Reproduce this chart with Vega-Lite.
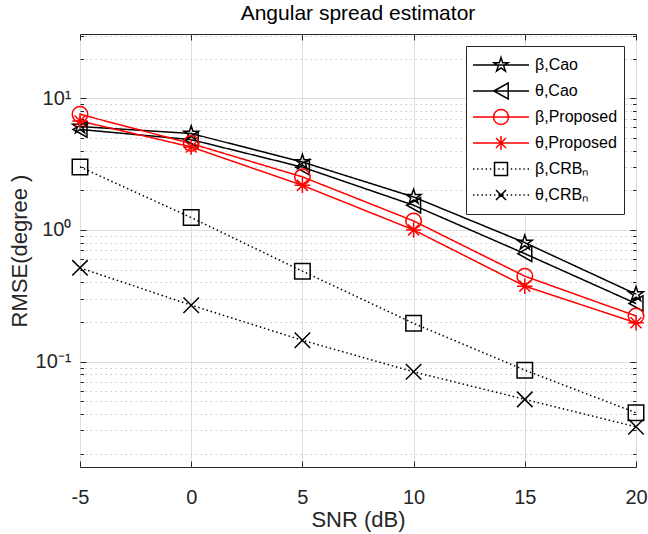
{
  "$schema": "https://vega.github.io/schema/vega-lite/v6.json",
  "width": 556,
  "height": 433,
  "autosize": {"type": "none"},
  "padding": {"left": 80, "top": 34, "right": 12, "bottom": 67},
  "title": {"text": "Angular spread estimator", "fontSize": 21, "fontWeight": "normal", "font": "Liberation Sans", "color": "#000000", "offset": 10, "anchor": "middle", "frame": "group"},
  "config": {
    "view": {"stroke": "#262626", "strokeWidth": 1},
    "font": "Liberation Sans",
    "legend": {
      "title": null,
      "orient": "top-right",
      "offset": 12,
      "padding": 6,
      "strokeColor": "#262626",
      "fillColor": "#ffffff",
      "cornerRadius": 0,
      "labelFontSize": 16,
      "labelFont": "Liberation Sans",
      "labelColor": "#000000",
      "symbolSize": 3136,
      "symbolStrokeWidth": 1.5,
      "symbolOpacity": 1,
      "symbolFillColor": "transparent",
      "labelOffset": 5,
      "clipHeight": 26,
      "rowPadding": 0
    }
  },
  "data": {"values": [
    {"snr": -5, "rmse": 6.1, "series": "β,Cao"},
    {"snr": 0, "rmse": 5.4, "series": "β,Cao"},
    {"snr": 5, "rmse": 3.28, "series": "β,Cao"},
    {"snr": 10, "rmse": 1.78, "series": "β,Cao"},
    {"snr": 15, "rmse": 0.8, "series": "β,Cao"},
    {"snr": 20, "rmse": 0.325, "series": "β,Cao"},
    {"snr": -5, "rmse": 5.8, "series": "θ,Cao"},
    {"snr": 0, "rmse": 4.85, "series": "θ,Cao"},
    {"snr": 5, "rmse": 3.0, "series": "θ,Cao"},
    {"snr": 10, "rmse": 1.54, "series": "θ,Cao"},
    {"snr": 15, "rmse": 0.66, "series": "θ,Cao"},
    {"snr": 20, "rmse": 0.276, "series": "θ,Cao"},
    {"snr": -5, "rmse": 7.56, "series": "β,Proposed"},
    {"snr": 0, "rmse": 4.53, "series": "β,Proposed"},
    {"snr": 5, "rmse": 2.53, "series": "β,Proposed"},
    {"snr": 10, "rmse": 1.17, "series": "β,Proposed"},
    {"snr": 15, "rmse": 0.445, "series": "β,Proposed"},
    {"snr": 20, "rmse": 0.222, "series": "β,Proposed"},
    {"snr": -5, "rmse": 6.72, "series": "θ,Proposed"},
    {"snr": 0, "rmse": 4.27, "series": "θ,Proposed"},
    {"snr": 5, "rmse": 2.18, "series": "θ,Proposed"},
    {"snr": 10, "rmse": 1.0, "series": "θ,Proposed"},
    {"snr": 15, "rmse": 0.374, "series": "θ,Proposed"},
    {"snr": 20, "rmse": 0.197, "series": "θ,Proposed"},
    {"snr": -5, "rmse": 3.01, "series": "β,CRBₙ"},
    {"snr": 0, "rmse": 1.24, "series": "β,CRBₙ"},
    {"snr": 5, "rmse": 0.486, "series": "β,CRBₙ"},
    {"snr": 10, "rmse": 0.195, "series": "β,CRBₙ"},
    {"snr": 15, "rmse": 0.086, "series": "β,CRBₙ"},
    {"snr": 20, "rmse": 0.0408, "series": "β,CRBₙ"},
    {"snr": -5, "rmse": 0.515, "series": "θ,CRBₙ"},
    {"snr": 0, "rmse": 0.268, "series": "θ,CRBₙ"},
    {"snr": 5, "rmse": 0.145, "series": "θ,CRBₙ"},
    {"snr": 10, "rmse": 0.0835, "series": "θ,CRBₙ"},
    {"snr": 15, "rmse": 0.0516, "series": "θ,CRBₙ"},
    {"snr": 20, "rmse": 0.0319, "series": "θ,CRBₙ"}
  ]},
  "layer": [
    {
      "mark": {"type": "line", "strokeWidth": 1.5, "clip": false},
      "encoding": {
        "x": {"field": "snr", "type": "quantitative",
          "scale": {"domain": [-5, 20], "nice": false, "zero": false},
          "axis": {"orient": "bottom", "values": [-5, 0, 5, 10, 15, 20], "title": "SNR (dB)",
            "grid": true, "gridColor": "#dedede", "gridWidth": 1, "domain": false,
            "ticks": true, "tickSize": -6, "tickColor": "#262626", "tickWidth": 1,
            "labelFontSize": 20, "labelColor": "#262626", "labelFont": "Liberation Sans",
            "labelPadding": 26, "labelFlush": false, "labelOverlap": false, "labelExpr": "'' + datum.value",
            "titleFontSize": 22, "titleFont": "Liberation Sans", "titleFontWeight": "normal", "titleColor": "#262626", "titlePadding": 2}},
        "y": {"field": "rmse", "type": "quantitative",
          "scale": {"type": "log", "domain": [0.0158, 30.8], "nice": false},
          "axis": {"orient": "left", "values": [0.1, 1, 10], "title": "RMSE(degree )",
            "grid": true, "gridColor": "#dedede", "gridWidth": 1, "domain": false,
            "ticks": true, "tickSize": -6, "tickColor": "#262626", "tickWidth": 1,
            "labelFontSize": 20, "labelColor": "#262626", "labelFont": "Liberation Sans",
            "labelPadding": 15, "labelFlush": false, "labelOverlap": false,
            "labelExpr": "datum.value >= 5 ? '10¹' : datum.value >= 0.5 ? '10⁰' : '10⁻¹'",
            "titleFontSize": 22, "titleFont": "Liberation Sans", "titleFontWeight": "normal", "titleColor": "#262626", "titlePadding": 4}},
        "color": {"field": "series", "type": "nominal",
          "scale": {"domain": ["β,Cao", "θ,Cao", "β,Proposed", "θ,Proposed", "β,CRBₙ", "θ,CRBₙ"],
                    "range": ["#000000", "#000000", "#ff0000", "#ff0000", "#000000", "#000000"]},
          "legend": null},
        "strokeDash": {"field": "series", "type": "nominal",
          "scale": {"domain": ["β,Cao", "θ,Cao", "β,Proposed", "θ,Proposed", "β,CRBₙ", "θ,CRBₙ"],
                    "range": [[1, 0], [1, 0], [1, 0], [1, 0], [1.5, 2.8], [1.5, 2.8]]},
          "legend": null}
      }
    },
    {
      "mark": {"type": "point", "filled": false, "strokeWidth": 1.5, "opacity": 1, "clip": false},
      "encoding": {
        "x": {"field": "snr", "type": "quantitative",
          "scale": {"domain": [-5, 20], "nice": false, "zero": false},
          "axis": {"orient": "top", "values": [-5, 0, 5, 10, 15, 20], "title": null, "labels": false,
            "grid": false, "domain": false, "ticks": true, "tickSize": -6, "tickColor": "#262626", "tickWidth": 1}},
        "y": {"field": "rmse", "type": "quantitative",
          "scale": {"type": "log", "domain": [0.0158, 30.8], "nice": false},
          "axis": {"orient": "left", "values": [0.02, 0.03, 0.04, 0.05, 0.06, 0.07, 0.08, 0.09, 0.2, 0.3, 0.4, 0.5, 0.6, 0.7, 0.8, 0.9, 2, 3, 4, 5, 6, 7, 8, 9, 20, 30],
            "title": null, "labels": false, "grid": true, "gridDash": [1.5, 3.5], "gridColor": "#c8c8c8", "gridWidth": 1,
            "domain": false, "ticks": true, "tickSize": -3.5, "tickColor": "#262626", "tickWidth": 1}},
        "color": {"field": "series", "type": "nominal",
          "scale": {"domain": ["β,Cao", "θ,Cao", "β,Proposed", "θ,Proposed", "β,CRBₙ", "θ,CRBₙ"],
                    "range": ["#000000", "#000000", "#ff0000", "#ff0000", "#000000", "#000000"]},
          "legend": null},
        "shape": {"field": "series", "type": "nominal",
          "scale": {"domain": ["β,Cao", "θ,Cao", "β,Proposed", "θ,Proposed", "β,CRBₙ", "θ,CRBₙ"],
                    "range": [
                      "M0,-1L0.2245,-0.309L0.951,-0.309L0.363,0.118L0.588,0.809L0,0.382L-0.588,0.809L-0.363,0.118L-0.951,-0.309L-0.2245,-0.309Z",
                      "M-0.9,0L0.9,-1L0.9,1Z",
                      "circle",
                      "M0,-1L0,1M-1,0L1,0M-0.707,-0.707L0.707,0.707M-0.707,0.707L0.707,-0.707",
                      "square",
                      "M-1,-1L1,1M-1,1L1,-1"
                    ]},
          "legend": null},
        "size": {"field": "series", "type": "nominal",
          "scale": {"domain": ["β,Cao", "θ,Cao", "β,Proposed", "θ,Proposed", "β,CRBₙ", "θ,CRBₙ"],
                    "range": [240, 240, 225, 196, 169, 85]},
          "legend": null}
      }
    },
    {
      "mark": {"type": "point", "filled": false, "opacity": 0, "size": 3136, "strokeWidth": 1.5},
      "encoding": {
        "x": {"field": "snr", "type": "quantitative",
          "scale": {"domain": [-5, 20], "nice": false, "zero": false}, "axis": null},
        "y": {"field": "rmse", "type": "quantitative",
          "scale": {"type": "log", "domain": [0.0158, 30.8], "nice": false},
          "axis": {"orient": "right", "values": [0.1, 1, 10], "title": null, "labels": false, "grid": false,
            "domain": false, "ticks": true, "tickSize": -6, "tickColor": "#262626", "tickWidth": 1}},
        "color": {"field": "series", "type": "nominal",
          "scale": {"domain": ["β,Cao", "θ,Cao", "β,Proposed", "θ,Proposed", "β,CRBₙ", "θ,CRBₙ"],
                    "range": ["#000000", "#000000", "#ff0000", "#ff0000", "#000000", "#000000"]}},
        "shape": {"field": "series", "type": "nominal",
          "scale": {"domain": ["β,Cao", "θ,Cao", "β,Proposed", "θ,Proposed", "β,CRBₙ", "θ,CRBₙ"],
                    "range": [
                      "M-1,0L1,0M0,-0.268L0.0602,-0.0828L0.2549,-0.0828L0.0973,0.0316L0.1576,0.2168L0,0.1024L-0.1576,0.2168L-0.0973,0.0316L-0.2549,-0.0828L-0.0602,-0.0828Z",
                      "M-1,0L1,0M-0.257,0L0.257,-0.286L0.257,0.286Z",
                      "M-1,0L1,0M0.268,0C0.268,0.148 0.148,0.268 0,0.268C-0.148,0.268 -0.268,0.148 -0.268,0C-0.268,-0.148 -0.148,-0.268 0,-0.268C0.148,-0.268 0.268,-0.148 0.268,0Z",
                      "M-1,0L1,0M0,-0.25L0,0.25M-0.177,-0.177L0.177,0.177M-0.177,0.177L0.177,-0.177",
                      "M-1,0h0.05M-0.85,0h0.05M-0.7,0h0.05M-0.55,0h0.05M-0.4,0h0.05M-0.25,0h0.05M-0.1,0h0.05M0.05,0h0.05M0.2,0h0.05M0.35,0h0.05M0.5,0h0.05M0.65,0h0.05M0.8,0h0.05M0.95,0h0.05M-0.232,-0.232L0.232,-0.232L0.232,0.232L-0.232,0.232Z",
                      "M-1,0h0.05M-0.85,0h0.05M-0.7,0h0.05M-0.55,0h0.05M-0.4,0h0.05M-0.25,0h0.05M-0.1,0h0.05M0.05,0h0.05M0.2,0h0.05M0.35,0h0.05M0.5,0h0.05M0.65,0h0.05M0.8,0h0.05M0.95,0h0.05M-0.179,-0.179L0.179,0.179M-0.179,0.179L0.179,-0.179"
                    ]}}
      }
    },
    {
      "mark": {"type": "point", "opacity": 0},
      "encoding": {
        "x": {"field": "snr", "type": "quantitative",
          "scale": {"domain": [-5, 20], "nice": false, "zero": false}, "axis": null},
        "y": {"field": "rmse", "type": "quantitative",
          "scale": {"type": "log", "domain": [0.0158, 30.8], "nice": false},
          "axis": {"orient": "right", "values": [0.02, 0.03, 0.04, 0.05, 0.06, 0.07, 0.08, 0.09, 0.2, 0.3, 0.4, 0.5, 0.6, 0.7, 0.8, 0.9, 2, 3, 4, 5, 6, 7, 8, 9, 20, 30],
            "title": null, "labels": false, "grid": false, "domain": false, "ticks": true, "tickSize": -3.5, "tickColor": "#262626", "tickWidth": 1}}
      }
    }
  ],
  "resolve": {
    "scale": {"color": "independent", "shape": "independent", "size": "independent", "strokeDash": "independent"},
    "axis": {"x": "independent", "y": "independent"}
  }
}
